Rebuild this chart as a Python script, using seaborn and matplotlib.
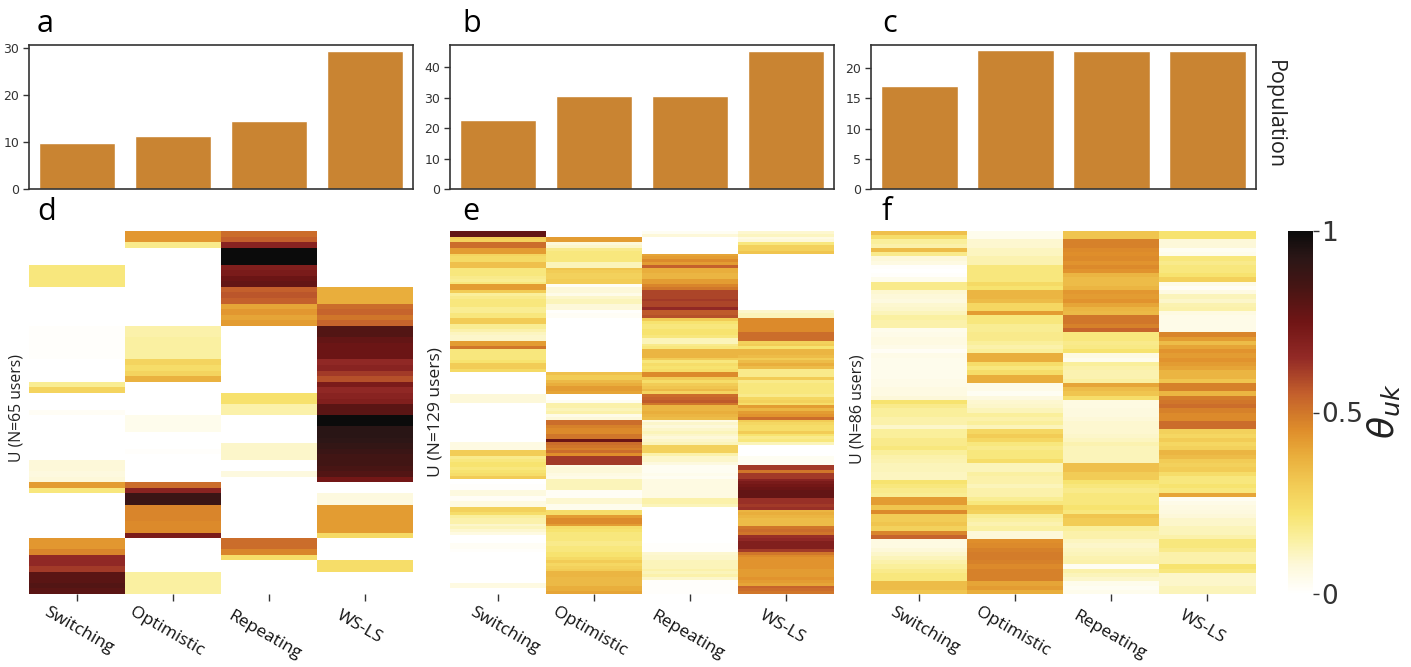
import numpy as np
import pandas as pd
import matplotlib
matplotlib.use("Agg")
import matplotlib.pyplot as plt
from matplotlib.colors import LinearSegmentedColormap
from matplotlib.transforms import ScaledTranslation
import seaborn as sns

strategies = ["Switching", "Optimistic", "Repeating", "WS-LS"]
bars_a = [9.7, 11.3, 14.5, 29.3]
bars_b = [22.7, 30.6, 30.6, 45.3]
bars_c = [17.1, 23.0, 22.8, 22.8]

d_switching = [0,0,0,0,0,0, 20,20,20,20, 0,0,0,0,0,0,0, 1,1,1,1,1,1, 0,0,0,0, 17,27, 0,0,0, 2,
               0,0,0,0,0,0,0,0, 8,8,7,8, 42,20, 0,0,0,0,0,0,0,0, 43,43,47, 66,66,62, 80,80,82,80]
d_optimistic = [43,43,18, 0,0,0,0,0,0,0,0,0,0,0,0,0,0, 14,14,15,15,15,15, 27,24,27,37,
                0,0,0,0,0,0, 4,4,4, 0,0,0, 1, 0,0,0,0,0, 52,68,88,88, 47,47,47,46,46, 72,
                0,0,0,0,0,0, 15,15,15,15]
d_repeating = [52,55,68, 100,100,100, 70,72,76,78, 55,57,55, 40,43,40,42,
               0,0,0,0,0,0,0,0,0,0,0,0, 23,23,14,14, 0,0,0,0,0, 10,10,10, 0,0, 7,
               0,0,0,0,0,0,0,0,0,0,0, 52,52,47,24, 0,0,0,0,0,0]
d_wsls = [0,0,0,0,0,0,0,0,0,0, 38,38,38, 52,54,50,54, 82,82, 78,76,76,76, 66,68,62,58, 72,66,68,
          70, 80,80, 100,100, 93,93,92, 90,88,86,86, 84,82, 74, 0,0, 7,7, 42,42,42,42,42, 25,
          0,0,0,0, 24,24, 0,0,0,0]

e_switching = [78,78, 30,28, 52,52, 42,42, 27,25, 25,33,33, 20,20,20,18,17,20, 42,42, 30,
               16,18,20,20,20,17,17,20,20, 30,30, 17,17,14,11, 10,10, 42,42,50, 20,20,20,20,22, 30,30,25,
               0,0,0,0,0,0,0,0, 8,8,8, 0,0,0,0,0,0,0,0,0,0,0,0,0,0, 6,6,6, 30,30,
               18,20,22,22,20,22,24,30, 0,0,1,1, 7,7, 2,2, 6,6, 28,28,24, 16,14,14, 10,12,9,6,
               0,0,0, 2,2,1, 0,0,0,0,0,0,0,0,0,0,0, 6,6, 0,0]
e_optimistic = [0,0, 42,42, 8,10, 18,20,20,20, 20,12,12, 32,30,28,28,30,30, 2,8,8,5, 10,12,12,8, 8, 1, 2,2,
                0,0,0,0,0,0,0,0,0,0,0,0,0,0,0,0,0,0,0, 33,30,30,35, 38,42,42,40, 0,0,3,
                14,14,12,14, 5,8, 52,52,48,46,46, 50,50, 76, 52,50,48, 52,45, 62,62,62,
                6,8,8,6, 5,12, 12,12,12, 2,2,2, 9,9, 4,4, 24,24, 42,46,46,42,
                24,22,20,20,20,18,18,20,20,22,22, 25,30,26,28, 30,36,36,35,35,35, 38,38,40]
e_repeating = [3,8, 0,0,0,0,0,0, 40,42,46,42, 55, 38,38,36,36,42,42, 47,50, 60,60,60,62,60,60, 66, 56,56,58,
               30,22,20,20,22,22, 20,12, 12,18,20, 36,36,36,30, 20,24,22,24, 46,46, 30,24,30,32, 35,27,
               52,54,56,50, 36, 36,38,36,34, 6,10,8,10,12,10,8,10,12, 28,28,28, 14,10,10,7,
               3,3,3,4,3, 6,6,6,6,6,6,6, 14,14,12, 0,0,0,0,0,0,0,0,0,0,0, 0,0,1,1,1,
               9,10,10,12,12,12,14,12,14,10, 1,1,1,1,1]
e_wsls = [9,11,6, 8,20,28,28,32, 0,0,0,0,0,0,0,0,0,0,0,0,0,0,0,0,0,0,0,0, 10,12,12,
          46,46,46,46,46,52,52,52, 28,30, 22,36,36,34,30,34,38,34, 18,18,18, 30, 18,20,20,20,20,18,
          26,28,24, 42,36,42,44, 52, 30,26,24,24, 30,22,18,20, 12, 0,0,0,0, 3,3,3,
          62,62,50, 62,62, 68,72,74,76, 78,78,78, 64,64,62,64, 36,38,36,34,34,34, 50,52,50,
          64,66,70,70,70, 62, 50,46,44, 44,44,44,42,42,42,44,42,40, 54,52,50]

f_switching = [33,24, 16,14, 34,18, 8,6, 1,0,1,4, 18,18, 9,8,7,9,10, 12,15,14,14, 4,5,6,6,5, 2,
               5,4,4,4,4,4,5,5, 6,6,8, 22,18,16, 16,14,14,10, 16,16,18,18,20, 16,14,13,12,12, 11,11,
               22,20,18,17, 42,42, 32, 46, 30,30,32,28, 47, 54, 6,6,8,10, 12,14,16,18, 20,20, 34,34,32]
f_optimistic = [4,4, 9,9,11,11,13,13, 20,20,20,20, 25,22, 36,36,34, 26,26, 42, 20,20,17,17,18,18, 16,14,16,
                38,38, 24,20,24, 38,38, 5,5, 3, 7,9,10,12, 16,14,16,12, 26,30,26, 20,18,20,20, 24,
                12,12,15,14,14, 12,14,14,17, 20,30,28, 17,15,13,15, 8,8,
                45,46,48,49,49,48,46,48,48,48, 40,42,38]
f_repeating = [32,32, 48,48, 46,45,46,44, 46,44, 36,34,34,36, 43,42,44, 40,36,35, 50,50,48, 54,
               20,20,18,19,22, 6,4, 16,14,13,13,15, 40,34, 32,24, 6,6,7,7,8,9,9, 9,10,11,
               13,12,12,12,12, 33,33,30,30, 22,20,18,20,20, 20,22,20, 32,30,30,
               16,14,14,11,10,11, 12,13,14, 3,14, 12,10, 4,3,4]
f_wsls = [22,22, 8,8, 3,4, 20,18,20,20,22,28, 5,2,6, 12,10,13,14, 6,5,5,5,5, 47,42, 34,40, 44,42,44,42,
          40,36,36,32, 48,48, 36, 49,50,52,48, 46,46, 52,52, 28,26,30,26,28, 36,34,30, 28,30,24,
          20,20,22,20, 40, 3,5,6,7, 8,10,10, 12,12,14, 20,20,18, 14,14,14, 22,20, 10,10,10,12,12]

user_counts = [65, 129, 86]
panel_d = [d_switching, d_optimistic, d_repeating, d_wsls]
panel_e = [e_switching, e_optimistic, e_repeating, e_wsls]
panel_f = [f_switching, f_optimistic, f_repeating, f_wsls]
for n, panel in zip(user_counts, [panel_d, panel_e, panel_f]):
    for name, col in zip(strategies, panel):
        assert len(col) == n, (n, name, len(col))

W, H = 1411, 667
sns.set_theme(style="ticks")
plt.rcParams["font.family"] = ["DejaVu Sans"]
cmap = LinearSegmentedColormap.from_list("theta", [
    (0.00, "#FFFFFF"), (0.08, "#FDF8D8"), (0.15, "#FAF0A0"), (0.22, "#F7E36F"),
    (0.30, "#F2CB55"), (0.38, "#E9AE3C"), (0.45, "#DF8E2B"), (0.50, "#D0772A"),
    (0.55, "#C4602C"), (0.65, "#932A26"), (0.75, "#701515"), (0.85, "#451514"),
    (0.93, "#2A1616"), (1.00, "#0B0B0B")])

fig = plt.figure(figsize=(W / 100, H / 100), dpi=100, facecolor="white")

def axes_px(x0, y0, x1, y1):
    return fig.add_axes([x0 / W, 1 - y1 / H, (x1 - x0) / W, (y1 - y0) / H])

lefts = [29, 450, 871]
rights = [413, 834, 1255.5]
tops = [30.7, 47.5, 23.9]
yticks = [[0, 10, 20, 30], [0, 10, 20, 30, 40], [0, 5, 10, 15, 20]]
dark = "#333333"

for l, r, vals, top, ticks in zip(lefts, rights, [bars_a, bars_b, bars_c], tops, yticks):
    ax = axes_px(l, 44.5, r, 189)
    df = pd.DataFrame({"strategy": strategies, "population": vals})
    sns.barplot(data=df, x="strategy", y="population", color="#C98432", saturation=1,
                width=0.8, ax=ax)
    ax.set_xlim(-0.5, 3.5)
    ax.set_ylim(0, top)
    ax.set_yticks(ticks)
    ax.set_xticks([])
    ax.set_xlabel("")
    ax.set_ylabel("")
    ax.tick_params(axis="y", labelsize=9, length=4, width=1, pad=3, colors=dark)
    for s in ax.spines.values():
        s.set_visible(True)
        s.set_color(dark)
        s.set_linewidth(1.2)

label_dx = [[2, -6, -5, -6], [7, -4, -3, -4], [6, -2, -2, -5]]
label_dy = [0, 0, -4, -4]
ylabel_pos = [(16.5, 408), (435.5, 412), (857, 409)]
ylabel_size = [11.3, 12.6, 11.5]

cax = axes_px(1288, 231, 1313, 594)
for i, (l, r, panel, n) in enumerate(zip(lefts, rights, [panel_d, panel_e, panel_f], user_counts)):
    ax = axes_px(l, 231, r, 594)
    mat = pd.DataFrame(np.array(panel).T / 100.0, columns=strategies)
    sns.heatmap(mat, cmap=cmap, vmin=0, vmax=1, ax=ax, yticklabels=False,
                cbar=(i == 2), cbar_ax=cax if i == 2 else None)
    ax.tick_params(axis="x", length=5, width=1, pad=2, color=dark)
    ax.tick_params(axis="y", length=0)
    ax.set_xticklabels(strategies, rotation=-30, ha="center", fontsize=12.5,
                       family="Open Sans", color="#111111")
    for lbl, dx, dy in zip(ax.get_xticklabels(), label_dx[i], label_dy):
        lbl.set_transform(lbl.get_transform() +
                          ScaledTranslation(dx / 100, dy / 100, fig.dpi_scale_trans))
    ax.set_ylabel("")
    px, py = ylabel_pos[i]
    fig.text(px / W, 1 - py / H, f"U (N={n} users)", rotation=90, fontsize=ylabel_size[i],
             family="Open Sans", color="#222222", ha="center", va="center")

cax.set_yticks([0, 0.5, 1])
cax.set_yticklabels(["0", "0.5", "1"], fontsize=19, color="#333333")
cax.tick_params(axis="y", length=4, width=1, pad=2, color=dark)
for s in cax.spines.values():
    s.set_visible(False)

for label, x, y in [("a", 37, 32), ("b", 462, 32), ("c", 882, 32),
                    ("d", 37, 220), ("e", 462, 220), ("f", 882, 220)]:
    fig.text(x / W, 1 - y / H, label, fontsize=22, family="Open Sans", color="black",
             ha="left", va="baseline")

fig.text(1274 / W, 1 - 115 / H, "Population", rotation=270, fontsize=15.5, family="Open Sans",
         color="#222222", ha="center", va="center")
fig.text(1384 / W, 1 - 411 / H, r"$\theta_{uk}$", rotation=90, fontsize=26, color="#222222",
         ha="center", va="center")

fig.savefig("out.png", dpi=100, facecolor="white")
